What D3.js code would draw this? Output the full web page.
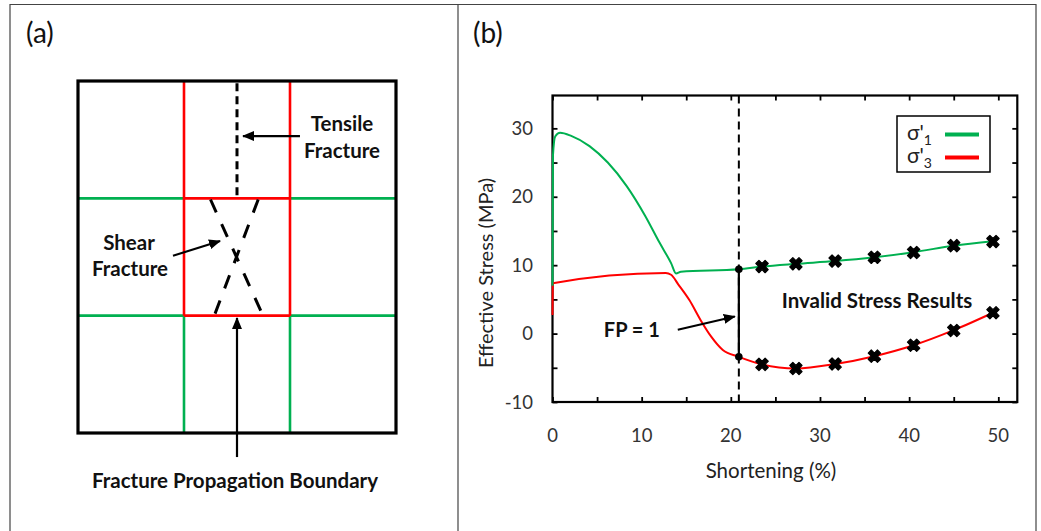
<!DOCTYPE html>
<html>
<head>
<meta charset="utf-8">
<script src="https://cdn.jsdelivr.net/npm/d3@7/dist/d3.min.js"></script>
<style>
  body { margin: 0; background: #fff; }
  svg { display: block; font-family: Lato, "Open Sans", sans-serif; }
</style>
</head>
<body>
<div id="chart"></div>
<script>
// Panel (b) data.
// sigma'1 curve (shortening %, MPa)
const s1X = [0, 0.05, 0.3, 0.85, 2.1, 4.15, 6.2, 8.3, 10.4, 12.0, 13.3, 13.85, 14.4, 20.9, 23.5, 27.3, 31.7, 36.1, 40.5, 45.0, 49.4];
const s1Y = [7.0, 26.0, 28.8, 29.35, 28.9, 27.4, 25.0, 21.6, 17.2, 13.3, 10.3, 8.8, 9.05, 9.4, 9.8, 10.2, 10.6, 11.15, 11.9, 12.85, 13.5];
// sigma'3 curve
const s3X = [0, 0.03, 12.7, 13.3, 14.1, 15.35, 16.6, 17.8, 19.1, 20.9, 23.5, 27.3, 31.7, 36.1, 40.5, 45.0, 49.4];
const s3Y = [2.7, 7.35, 8.85, 8.6, 7.2, 4.9, 2.0, -0.45, -2.4, -3.4, -4.5, -5.1, -4.45, -3.3, -1.7, 0.5, 3.05];
// "invalid" result markers
const markX = [23.5, 27.3, 31.7, 36.1, 40.5, 45.0, 49.4];
const markS1 = [9.8, 10.2, 10.6, 11.15, 11.85, 12.85, 13.45];
const markS3 = [-4.5, -5.1, -4.45, -3.3, -1.7, 0.45, 3.05];
// FP = 1 point
const fpX = 20.9;
const fpS1 = 9.4;
const fpS3 = -3.4;
const xTicks = [0, 10, 20, 30, 40, 50];
const yTicks = [-10, 0, 10, 20, 30];
const legendKeys = [{ sub: "1", color: "#00b050" }, { sub: "3", color: "#ff0000" }];

const GREEN = "#00b050", RED = "#ff0000";
const W = 1041, H = 531;

const svg = d3.select("#chart").append("svg").attr("width", W).attr("height", H);

// arrowhead
svg.append("defs").append("marker")
    .attr("id", "arrow")
    .attr("viewBox", "0 0 12 10")
    .attr("refX", 11).attr("refY", 5)
    .attr("markerWidth", 12).attr("markerHeight", 10)
    .attr("markerUnits", "userSpaceOnUse")
    .attr("orient", "auto")
  .append("path").attr("d", "M0,0 L12,5 L0,10 Z").attr("fill", "#000");

// outer frame + panel divider
const frame = svg.append("g").attr("stroke", "#444").attr("stroke-width", 1.2).attr("fill", "none");
frame.append("path").attr("d", `M10,${H + 2} V4.5 H1036 V${H + 2}`);
frame.append("line").attr("x1", 458).attr("x2", 458).attr("y1", 4.5).attr("y2", H + 2);

svg.append("text").attr("x", 26).attr("y", 43).attr("font-size", 28).attr("fill", "#111").text("(a)");
svg.append("text").attr("x", 473).attr("y", 43).attr("font-size", 28).attr("fill", "#111").text("(b)");

// ---------- Panel (a): schematic on a 3x3 cell grid ----------
const gx = d3.scaleLinear().domain([0, 3]).range([78, 396]);
const gy = d3.scaleLinear().domain([0, 3]).range([81, 433]);
const pa = svg.append("g");

const seg = (x1, y1, x2, y2) => `M${gx(x1)},${gy(y1)}L${gx(x2)},${gy(y2)}`;

// green grid lines
pa.append("path").attr("fill", "none").attr("stroke", GREEN).attr("stroke-width", 2.6)
  .attr("d", [seg(0, 1, 1, 1), seg(2, 1, 3, 1), seg(0, 2, 1, 2), seg(2, 2, 3, 2), seg(1, 2, 1, 3), seg(2, 2, 2, 3)].join(""));
// red propagation boundary
pa.append("path").attr("fill", "none").attr("stroke", RED).attr("stroke-width", 2.6)
  .attr("d", [seg(1, 0, 1, 2), seg(2, 0, 2, 2), seg(1, 1, 2, 1), seg(1, 2, 2, 2)].join(""));
// black square
pa.append("rect").attr("x", gx(0)).attr("y", gy(0)).attr("width", gx(3) - gx(0)).attr("height", gy(3) - gy(0))
  .attr("fill", "none").attr("stroke", "#000").attr("stroke-width", 3.2);

// tensile fracture (dashed)
pa.append("path").attr("d", seg(1.5, 0.02, 1.5, 1)).attr("stroke", "#000").attr("stroke-width", 3)
  .attr("stroke-dasharray", "8,5");
// shear fracture (dashed X)
pa.append("path").attr("d", seg(1.25, 1.01, 1.74, 1.99) + seg(1.70, 1.01, 1.29, 1.99))
  .attr("stroke", "#000").attr("stroke-width", 3).attr("stroke-dasharray", "14,13").attr("fill", "none");

// arrows
const arrowsA = [[2.094, 0.469, 1.557, 0.469], [0.896, 1.489, 1.34, 1.364], [1.5, 3.205, 1.5, 2.02]];
pa.selectAll("line.arr").data(arrowsA).join("line").attr("class", "arr")
  .attr("x1", d => gx(d[0])).attr("y1", d => gy(d[1]))
  .attr("x2", d => gx(d[2])).attr("y2", d => gy(d[3]))
  .attr("stroke", "#000").attr("stroke-width", 2.2).attr("marker-end", "url(#arrow)");

const labelsA = [
  ["Tensile", 342, 131], ["Fracture", 342, 158],
  ["Shear", 129, 250], ["Fracture", 130, 276],
  ["Fracture Propagation Boundary", 235, 488]
];
pa.selectAll("text.lbl").data(labelsA).join("text").attr("class", "lbl")
  .attr("x", d => d[1]).attr("y", d => d[2]).attr("text-anchor", "middle")
  .attr("font-size", 20.5).attr("font-weight", "bold").attr("fill", "#111")
  .text(d => d[0]);

// ---------- Panel (b): stress vs shortening ----------
const plot = { left: 552.5, right: 1017.3, top: 95.5, bottom: 402 };
const x = d3.scaleLinear().domain([0, 52.13]).range([plot.left, plot.right]);
const y = d3.scaleLinear().domain([-10, 34.8]).range([plot.bottom, plot.top]);
const pb = svg.append("g");

const minorX = d3.range(0, 51, 5), minorY = d3.range(-10, 35, 5);
const TL = 5;

// axes (inner ticks on all sides)
pb.append("g").attr("transform", `translate(0,${plot.bottom})`)
  .call(d3.axisBottom(x).tickValues(minorX).tickSize(-TL).tickFormat(""));
pb.append("g").attr("transform", `translate(0,${plot.top})`)
  .call(d3.axisTop(x).tickValues(minorX).tickSize(-TL).tickFormat(""));
pb.append("g").attr("transform", `translate(${plot.left},0)`)
  .call(d3.axisLeft(y).tickValues(minorY).tickSize(-TL).tickFormat(""));
pb.append("g").attr("transform", `translate(${plot.right},0)`)
  .call(d3.axisRight(y).tickValues(minorY).tickSize(-TL).tickFormat(""));
pb.selectAll(".domain").remove();
pb.selectAll(".tick line").attr("stroke", "#000").attr("stroke-width", 1.8);
pb.append("rect").attr("x", plot.left).attr("y", plot.top)
  .attr("width", plot.right - plot.left).attr("height", plot.bottom - plot.top)
  .attr("fill", "none").attr("stroke", "#000").attr("stroke-width", 2.2);

// tick labels
pb.selectAll("text.xt").data(xTicks).join("text").attr("class", "xt")
  .attr("x", d => x(d)).attr("y", 442).attr("text-anchor", "middle")
  .attr("font-size", 18.5).attr("fill", "#333").text(d => d);
pb.selectAll("text.yt").data(yTicks).join("text").attr("class", "yt")
  .attr("x", 533).attr("y", d => y(d) + 6.5).attr("text-anchor", "end")
  .attr("font-size", 18.5).attr("fill", "#333").text(d => d);

// axis titles
pb.append("text").attr("x", 771).attr("y", 478).attr("text-anchor", "middle")
  .attr("font-size", 20.5).attr("fill", "#222").text("Shortening (%)");
pb.append("text").attr("transform", "translate(493,273) rotate(-90)").attr("text-anchor", "middle")
  .attr("font-size", 20).attr("fill", "#222").text("Effective Stress (MPa)");

// failure dashed line
pb.append("line").attr("x1", x(fpX)).attr("x2", x(fpX)).attr("y1", plot.top).attr("y2", plot.bottom)
  .attr("stroke", "#000").attr("stroke-width", 2).attr("stroke-dasharray", "8,5");

// curves
const line = d3.line().x(d => x(d[0])).y(d => y(d[1])).curve(d3.curveMonotoneX);
pb.append("path").attr("d", line(d3.zip(s3X, s3Y))).attr("fill", "none").attr("stroke", RED).attr("stroke-width", 2);
pb.append("path").attr("d", line(d3.zip(s1X, s1Y))).attr("fill", "none").attr("stroke", GREEN).attr("stroke-width", 2);

// FP = 1 connector
pb.append("line").attr("x1", x(fpX)).attr("x2", x(fpX)).attr("y1", y(fpS1)).attr("y2", y(fpS3))
  .attr("stroke", "#000").attr("stroke-width", 2.2);
pb.selectAll("circle.fp").data([fpS1, fpS3]).join("circle").attr("class", "fp")
  .attr("cx", x(fpX)).attr("cy", d => y(d)).attr("r", 3.8).attr("fill", "#000");

// X markers
const cross = d3.symbol().type(d3.symbolCross).size(95);
const marks = markX.flatMap((mx, i) => [[mx, markS1[i]], [mx, markS3[i]]]);
pb.selectAll("path.mk").data(marks).join("path").attr("class", "mk")
  .attr("d", cross)
  .attr("transform", d => `translate(${x(d[0])},${y(d[1])}) rotate(45)`)
  .attr("fill", "#000").attr("stroke", "#000").attr("stroke-width", 1.2).attr("stroke-linejoin", "round");

// annotations
pb.append("text").attr("x", x(36.4)).attr("y", y(4.75) + 7).attr("text-anchor", "middle")
  .attr("font-size", 20.5).attr("font-weight", "bold").attr("fill", "#111").text("Invalid Stress Results");
pb.append("text").attr("x", x(8.9)).attr("y", y(0.57) + 7).attr("text-anchor", "middle")
  .attr("font-size", 20).attr("font-weight", "bold").attr("fill", "#111").text("FP = 1");
pb.append("line").attr("x1", x(14.05)).attr("y1", y(0.57)).attr("x2", x(20.45)).attr("y2", y(2.5))
  .attr("stroke", "#000").attr("stroke-width", 2).attr("marker-end", "url(#arrow)");

// legend
const lg = pb.append("g").attr("transform", "translate(897,116)");
lg.append("rect").attr("width", 93).attr("height", 56).attr("fill", "#fff").attr("stroke", "#000").attr("stroke-width", 1.5);
const li = lg.selectAll("g.li").data(legendKeys).join("g").attr("class", "li")
  .attr("transform", (d, i) => `translate(0,${18.5 + i * 23})`);
li.append("line").attr("x1", 48).attr("x2", 82).attr("stroke", d => d.color).attr("stroke-width", 4);
const lt = li.append("text").attr("x", 10).attr("y", 5).attr("font-size", 21).attr("fill", "#222");
lt.append("tspan").text("σ'");
lt.append("tspan").attr("dy", 5).attr("font-size", 14).text(d => d.sub);
</script>
</body>
</html>
